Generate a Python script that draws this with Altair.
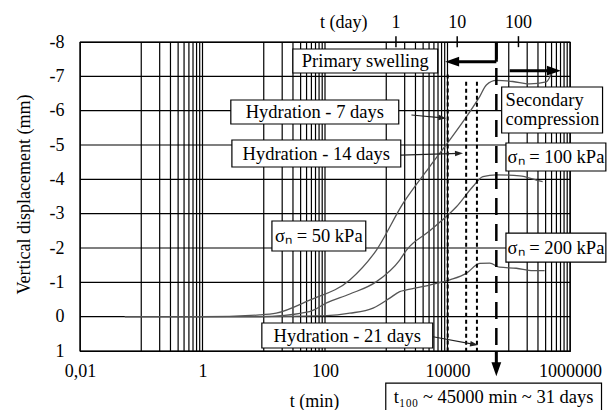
import altair as alt
import pandas as pd

# ---------------- data ----------------
t_50 = [0.054, 1, 8.6, 16, 56, 254, 692, 1880, 5130, 10900, 20300, 33500, 43100, 62700, 116000, 219000, 410000, 500000]
v_50 = [0, 0, -0.05, -0.1, -0.48, -1.07, -1.94, -3.30, -4.37, -5.15, -5.82, -6.41, -6.75, -6.88, -6.85, -6.78, -6.84, -7.1]

t_100 = [0.054, 1, 8.6, 56, 106, 254, 692, 1660, 2140, 5130, 10900, 14000, 26000, 37900, 62700, 151000, 282000, 357000]
v_100 = [0, 0, 0, -0.15, -0.40, -0.66, -1.02, -1.65, -1.94, -2.5, -3.01, -3.2, -3.79, -4.08, -4.13, -4.10, -3.98, -3.93]

t_200 = [0.054, 1, 8.6, 106, 254, 609, 1140, 1660, 2140, 5130, 10900, 20300, 33500, 48900, 71100, 133000, 248000, 385000]
v_200 = [0, 0, 0, -0.03, -0.1, -0.25, -0.54, -0.73, -0.78, -0.92, -1.07, -1.26, -1.55, -1.56, -1.44, -1.41, -1.34, -1.34]

x_label_values = [0.01, 1, 100, 10000, 1000000]
y_values = [-8, -7, -6, -5, -4, -3, -2, -1, 0, 1]
grid_t = [0.01, 0.1, 0.2, 0.3, 0.4, 0.5, 0.6, 0.7, 0.8, 0.9, 1,
          10, 20, 30, 40, 50, 60, 70, 80, 90, 100,
          1000, 2000, 3000, 4000, 5000, 6000, 7000, 8000, 9000, 10000,
          100000, 200000, 300000, 400000, 500000, 600000, 700000, 800000, 900000, 1000000]
day_ticks = [1, 10, 100]
minutes_per_day = 1440
hydration_days = [7, 14, 21]
t100_line = 62700

# ---------------- scales / axes ----------------
FONT = "'Liberation Serif', 'Times New Roman', Times, serif"
xs = alt.Scale(type="log", domain=[0.01, 1000000], nice=False)
ys = alt.Scale(domain=[-8, 1], reverse=True, nice=False, zero=False)

AX = alt.Axis(
    values=x_label_values, grid=False, ticks=False, domain=False,
    labelFlush=False, labelOverlap=False,
    labelExpr="datum.value < 0.1 ? '0,01' : format(datum.value, 'd')",
    labelFont=FONT, labelFontSize=18, labelColor="black", labelPadding=11,
    title="t (min)", titleFont=FONT, titleFontSize=18, titleFontWeight="normal",
    titleColor="black", titleX=234, titleY=50, titleBaseline="middle", titleAlign="center")
AY = alt.Axis(
    values=y_values, grid=False, ticks=False, domain=False,
    labelExpr="'' + datum.value", labelFlush=False, labelOverlap=False,
    labelFont=FONT, labelFontSize=18, labelColor="black", labelPadding=16,
    title="Vertical displacement (mm)", titleFont=FONT, titleFontSize=18,
    titleFontWeight="normal", titleColor="black", titleX=-56, titleY=152,
    titleBaseline="middle", titleAlign="center")


def X(field):
    return alt.X(field, type="quantitative", scale=xs, axis=AX)


def Y(field):
    return alt.Y(field, type="quantitative", scale=ys, axis=AY)


curves = pd.concat([
    pd.DataFrame({"t": t_50, "v": v_50, "s": "50"}),
    pd.DataFrame({"t": t_100, "v": v_100, "s": "100"}),
    pd.DataFrame({"t": t_200, "v": v_200, "s": "200"}),
])

hgrid = alt.Chart(pd.DataFrame({"v": y_values})).mark_rule(color="black", strokeWidth=1.2).encode(
    y=Y("v:Q"))

vgrid = alt.Chart(pd.DataFrame({"t": grid_t})).mark_rule(color="black", strokeWidth=1.2).encode(
    x=X("t:Q"))

curve_layer = alt.Chart(curves).mark_line(color="#555555", strokeWidth=1.3, interpolate="monotone").encode(
    x=X("t:Q"), y=Y("v:Q"), detail="s:N")

# hydration dashed lines
hyd = pd.DataFrame({"t": [d * minutes_per_day for d in hydration_days],
                    "v1": [-7.05, -6.84, -6.84], "v2": [1, 1, 1]})
hyd_layer = alt.Chart(hyd).mark_rule(color="black", strokeWidth=2, strokeDash=[4, 3]).encode(
    x=X("t:Q"), y=Y("v1:Q"), y2="v2:Q")

# t100 long-dash line
t100_layer = alt.Chart(pd.DataFrame({"t": [t100_line], "v1": [-8], "v2": [1]})).mark_rule(
    color="black", strokeWidth=2.5, strokeDash=[17, 9]).encode(
    x=X("t:Q"), y=Y("v1:Q"), y2="v2:Q")

# thick arrows (segments)
thick = pd.DataFrame({
    "x1": [t100_line, t100_line, 103500, t100_line],
    "x2": [t100_line, 11900, 545000, t100_line],
    "y1": [-8, -7.426, -7.164, 1],
    "y2": [-7.426, -7.426, -7.164, 1.531],
})
thick_layer = alt.Chart(thick).mark_rule(color="black", strokeWidth=3).encode(
    x=X("x1:Q"), x2="x2:Q", y=Y("y1:Q"), y2="y2:Q")

# thin arrows
thin = pd.DataFrame({
    "x1": [2577, 1725, 5800],
    "x2": [8260, 15400, 27200],
    "y1": [-5.874, -4.708, 0.584],
    "y2": [-5.789, -4.755, 0.806],
})
thin_layer = alt.Chart(thin).mark_rule(color="#222222", strokeWidth=1.2).encode(
    x=X("x1:Q"), x2="x2:Q", y=Y("y1:Q"), y2="y2:Q")

RIGHT = "M-1,-0.7L1,0L-1,0.7Z"
thin_heads = pd.DataFrame({"t": [8260, 15400, 27200], "v": [-5.789, -4.755, 0.806], "a": [5, 358, 10]})
thin_head_layer = alt.Chart(thin_heads).mark_point(
    shape=RIGHT, filled=True, color="#222222", size=64, opacity=1).encode(
    x=X("t:Q"), y=Y("v:Q"), angle=alt.Angle("a:Q", scale=None))

thick_heads = pd.DataFrame({"t": [11900, 545000, t100_line], "v": [-7.426, -7.164, 1.531], "a": [180, 0, 90]})
thick_head_layer = alt.Chart(thick_heads).mark_point(
    shape=RIGHT, filled=True, color="black", size=196, opacity=1).encode(
    x=X("t:Q"), y=Y("v:Q"), angle=alt.Angle("a:Q", scale=None))

# top axis (days)
top_ticks = alt.Chart(pd.DataFrame({"t": [d * minutes_per_day for d in day_ticks],
                                    "v1": [-8.17] * 3, "v2": [-7.85] * 3})).mark_rule(
    color="black", strokeWidth=1.5).encode(
    x=X("t:Q"), y=Y("v1:Q"), y2="v2:Q")
top_labels = alt.Chart(pd.DataFrame({
    "t": [d * minutes_per_day for d in day_ticks] + [203],
    "v": [-8.55] * 4,
    "txt": [str(d) for d in day_ticks] + ["t (day)"]})).mark_text(
    font=FONT, fontSize=18, color="black", baseline="middle", align="center").encode(
    x=X("t:Q"), y=Y("v:Q"), text="txt:N")

# annotation boxes
boxes = pd.DataFrame({
    "x1": [29.9, 2.90, 3.02, 76600, 90000, 13.6, 90000, 9.31, 982],
    "x2": [6918, 1600, 1725, 3.40e6, 3.85e6, 463, 3.85e6, 5740, 3.27e6],
    "y1": [-7.796, -6.311, -5.145, -6.689, -5.058, -2.786, -2.436, 0.185, 1.933],
    "y2": [-7.097, -5.611, -4.359, -5.349, -4.242, -1.912, -1.591, 0.913, 2.80],
})
box_layer = alt.Chart(boxes).mark_rect(fill="white", stroke="black", strokeWidth=1.2).encode(
    x=X("x1:Q"), x2="x2:Q", y=Y("y1:Q"), y2="y2:Q")

center_txt = pd.DataFrame({
    "t": [454, 68.2, 72.1, 79.3, 231, 56700, 590000, 590000],
    "v": [-7.447, -5.961, -4.752, -2.349, 0.549, 2.341, -4.650, -2.014],
    "txt": ["Primary swelling", "Hydration - 7 days", "Hydration - 14 days",
            "σₙ = 50 kPa", "Hydration - 21 days", "t₁₀₀ ~ 45000 min ~ 31 days",
            "σₙ = 100 kPa", "σₙ = 200 kPa"],
})
center_layer = alt.Chart(center_txt).mark_text(
    font=FONT, fontSize=18.5, color="black", baseline="middle", align="center").encode(
    x=X("t:Q"), y=Y("v:Q"), text="txt:N")

left_txt = pd.DataFrame({
    "t": [88900, 88900],
    "v": [-6.311, -5.743],
    "txt": ["Secondary", "compression"],
})
left_layer = alt.Chart(left_txt).mark_text(
    font=FONT, fontSize=18.5, color="black", baseline="middle", align="left").encode(
    x=X("t:Q"), y=Y("v:Q"), text="txt:N")

chart = alt.layer(
    vgrid, hgrid, curve_layer, hyd_layer, t100_layer, thick_layer, thick_head_layer,
    thin_layer, thin_head_layer, top_ticks, top_labels,
    box_layer, center_layer, left_layer,
).properties(
    width=490, height=309,
    autosize=alt.AutoSizeParams(type="none"),
    padding={"left": 72, "top": 34, "right": 38, "bottom": 59},
    background="white",
).configure_view(stroke="black", strokeWidth=1.2)

chart.save("out.html", embed_options={"renderer": "svg", "actions": False})
